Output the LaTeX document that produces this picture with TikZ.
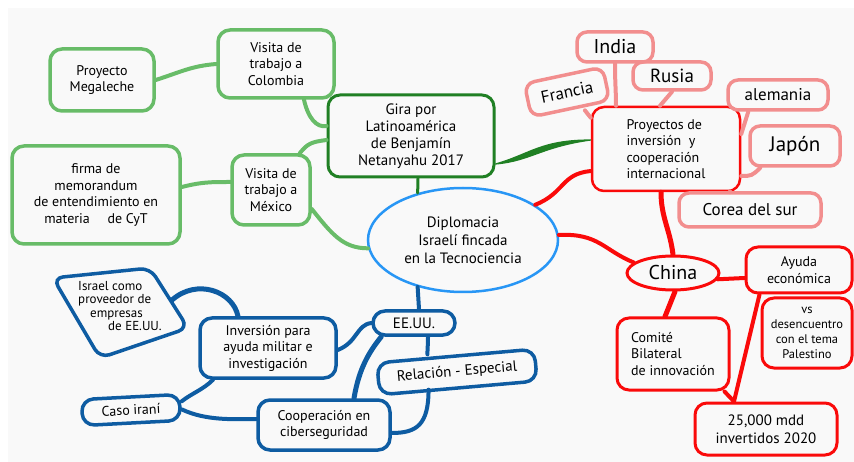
\documentclass[tikz,border=0pt]{standalone}
\usepackage{fontspec}
\setmainfont{PT Sans}
\usetikzlibrary{shapes.geometric,calc}
\definecolor{bgc}{RGB}{249,249,249}
\definecolor{lgreen}{RGB}{104,188,104}
\definecolor{dgreen}{RGB}{32,128,36}
\definecolor{cblue}{RGB}{40,150,245}
\definecolor{redc}{RGB}{250,10,10}
\definecolor{pinkc}{RGB}{242,142,142}
\definecolor{dblue}{RGB}{14,92,162}
\tikzset{
  mmbox/.style={rectangle, rounded corners=12pt, align=center, inner sep=2pt, text=black,
                font=\fontsize{14}{16.5}\selectfont},
  lgbox/.style={mmbox, draw=lgreen, line width=3.5pt},
  dgbox/.style={mmbox, draw=dgreen, line width=3pt},
  rbox/.style={mmbox, draw=redc, line width=3pt},
  pkbox/.style={mmbox, draw=pinkc, line width=3.5pt, rounded corners=10pt,
                font=\fontsize{17}{20}\selectfont},
  bbox/.style={mmbox, draw=dblue, line width=3.5pt},
  lgl/.style={draw=lgreen, line width=4pt, line cap=round},
  dgl/.style={draw=dgreen, line width=3pt, line cap=round},
  rl/.style={draw=redc, line width=4pt, line cap=round},
  pkl/.style={draw=pinkc, line width=4pt, line cap=round},
  bl/.style={draw=dblue, line width=4pt, line cap=round},
}
\begin{document}
\begin{tikzpicture}[x=1pt,y=-1pt]
\useasboundingbox (0,0) rectangle (854,462);
\fill[white] (0,0) rectangle (854,462);
\fill[bgc] (8,8) rectangle (854,462);

% ---------- green nodes ----------
\node[lgbox, minimum width=104pt, minimum height=62pt] (mega) at (102,80) {Proyecto\\Megaleche};
\node[lgbox, minimum width=116pt, minimum height=68pt] (colombia) at (276,64) {Visita de\\trabajo a\\Colombia};
\node[lgbox, minimum width=168pt, minimum height=98pt] (firma) at (96,195) {firma de\\memorandum\\de entendimiento en\\materia \quad de CyT};
\node[lgbox, minimum width=78pt, minimum height=70pt] (mexico) at (271,190) {Visita de\\trabajo a\\México};
\node[dgbox, minimum width=166pt, minimum height=82pt, font=\fontsize{15}{17}\selectfont] (gira) at (411,136) {Gira por\\Latinoamérica\\de Benjamín\\Netanyahu 2017};

% ---------- centre ----------
\node[ellipse, draw=cblue, line width=2.5pt, minimum width=190pt, minimum height=104pt, align=center,
      font=\fontsize{15}{18}\selectfont] (center) at (463,240) {Diplomacia\\Israelí fincada\\en la Tecnociencia};

% ---------- red / pink ----------
\node[rbox, line width=2.5pt, minimum width=148pt, minimum height=84pt, align=left] (proy) at (666,149) {Proyectos de\\inversión \ y\\cooperación\\internacional};
\node[pkbox, minimum width=76pt, minimum height=30pt, font=\fontsize{20}{22}\selectfont] (india) at (615,47) {India};
\node[pkbox, minimum width=80pt, minimum height=34pt, rotate=12] (francia) at (567,92) {Francia};
\node[pkbox, minimum width=78pt, minimum height=28pt, font=\fontsize{19}{22}\selectfont] (rusia) at (672,76) {Rusia};
\node[pkbox, minimum width=100pt, minimum height=30pt] (alemania) at (778,95) {alemania};
\node[pkbox, minimum width=90pt, minimum height=40pt, font=\fontsize{21}{24}\selectfont] (japon) at (795,146) {Japón};
\node[pkbox, minimum width=142pt, minimum height=34pt] (corea) at (750,210) {Corea del sur};

\node[ellipse, draw=redc, line width=3pt, minimum width=92pt, minimum height=34pt, inner sep=1pt,
      font=\fontsize{20}{22}\selectfont] (china) at (673,273) {China};
\node[rbox, minimum width=106pt, minimum height=46pt] (ayuda) at (799,270) {Ayuda\\económica};
\node[rbox, minimum width=90pt, minimum height=70pt, font=\fontsize{12.5}{15}\selectfont] (vs) at (807,333) {vs\\desencuentro\\con el tema\\Palestino};
\node[rbox, minimum width=112pt, minimum height=72pt, align=left] (comite) at (673,354) {Comité\\Bilateral\\de innovación};
\node[rbox, minimum width=142pt, minimum height=52pt, font=\fontsize{15}{18}\selectfont] (mdd) at (766,429) {25,000 mdd\\invertidos 2020};

% ---------- blue ----------
\node[align=left, inner sep=1pt, font=\fontsize{13}{13.5}\selectfont] (israel) at (120,306)
  {Israel como\\proveedor de\\\hspace*{12pt}empresas\\\hspace*{30pt}de EE.UU.};
\draw[dblue, line width=3.5pt, rounded corners=10pt]
  ($(israel)+(-67,-28)$) -- ($(israel)+(30,-38)$) -- ($(israel)+(68,22)$) -- ($(israel)+(-20,52)$) -- cycle;
\node[bbox, minimum width=136pt, minimum height=60pt] (inv) at (268,348) {Inversión para\\ayuda militar e\\investigación};
\node[bbox, minimum width=82pt, minimum height=24pt, font=\fontsize{15}{17}\selectfont] (eeuu) at (414,323) {EE.UU.};
\node[bbox, minimum width=158pt, minimum height=32pt, rotate=5, font=\fontsize{15}{17}\selectfont] (rel) at (457,372) {Relación - Especial};
\node[bbox, minimum width=98pt, minimum height=26pt, rotate=3] (iran) at (131,410) {Caso iraní};
\node[bbox, minimum width=132pt, minimum height=50pt] (ciber) at (324,425) {Cooperación en\\ciberseguridad};

% ---------- green connectors ----------
\draw[lgl] (mega.east) .. controls +(25,-8) and +(-25,2) .. (colombia.west);
\draw[lgl] ([xshift=28pt]colombia.south) .. controls +(4,18) and +(-10,2) .. ([yshift=10pt]gira.west);
\draw[lgl] ([yshift=-4pt]gira.west) .. controls +(-15,2) and +(8,-10) .. ([xshift=-12pt]mexico.north east);
\draw[lgl] ([yshift=8pt]firma.east) .. controls +(20,-5) and +(-20,0) .. ([yshift=8pt]mexico.west);
\draw[lgl] (mexico.-25) .. controls +(20,25) and +(-25,0) .. (center.185);
\draw[dgl] ([xshift=7pt]gira.south) -- (center.134);
\filldraw[dgreen, line width=1.2pt] ([yshift=-28pt]gira.east) .. controls +(35,-10) and +(-50,0) .. ([yshift=9pt]proy.west)
   .. controls +(-50,7) and +(35,-3) .. ([yshift=-28pt]gira.east) -- cycle;

% ---------- red connectors ----------
\draw[rl] ([yshift=-22pt]proy.west) .. controls +(-30,3) and +(30,-12) .. (center.26);
\draw[rl] (center.3) .. controls +(40,-2) and +(-30,-12) .. (china.165);
\draw[rl, line width=5pt] ([xshift=-5pt]proy.south) .. controls +(0,25) and +(-3,-25) .. (china.north);
\draw[rl] (china.-8) -- ([yshift=-8pt]ayuda.west);
\draw[rl, line width=5pt] ([xshift=2pt]china.south) -- ([xshift=-8pt]comite.north);
\draw[rl] ([xshift=15pt]ayuda.south west) -- ([xshift=-32pt]mdd.north);
\draw[rl] ([xshift=-6pt]comite.south east) -- ([xshift=-32pt]mdd.north);

% ---------- pink connectors ----------
\draw[pkl] ([xshift=14pt]francia.south) -- ([yshift=-12pt]proy.north west);
\draw[pkl] (india.south) .. controls +(0,20) and +(0,-15) .. ([xshift=-50pt]proy.north);
\draw[pkl] (rusia.south) -- ([xshift=-6pt]proy.north);
\draw[pkl] ([xshift=22pt]alemania.south west) -- ([yshift=15pt]proy.east);
\draw[pkl] ([xshift=12pt]japon.south west) .. controls +(-8,8) and +(10,0) .. ([yshift=-27pt]proy.east);
\draw[pkl] ([xshift=-20pt]corea.north) -- ([xshift=64pt]proy.south);

% ---------- blue connectors ----------
\draw[bl] (center.-134) -- ([xshift=5pt]eeuu.north);
\draw[bl] (eeuu.west) .. controls +(-15,2) and +(20,-8) .. ([yshift=-2pt]inv.east);
\draw[bl] ([xshift=14pt]eeuu.south) .. controls +(0,10) and +(0,-8) .. ([xshift=-28pt]rel.north);
\draw[bl, line width=5pt] ([xshift=10pt]eeuu.south west) .. controls +(-12,15) and +(5,-30) .. ([xshift=30pt]ciber.north);
\draw[bl] ([xshift=-30pt]rel.south) .. controls +(0,35) and +(25,0) .. ([yshift=-8pt]ciber.east);
\draw[bl, line width=5pt] ($(israel)+(52,-6)$) .. controls +(25,-22) and +(-5,-25) .. ([xshift=-30pt]inv.north);
\draw[bl] ([xshift=-55pt]inv.south) .. controls +(-10,10) and +(10,-8) .. ([yshift=6pt]iran.east);
\draw[bl] ([yshift=-2pt]iran.east) .. controls +(25,12) and +(-20,0) .. ([yshift=6pt]ciber.west);
\end{tikzpicture}
\end{document}
